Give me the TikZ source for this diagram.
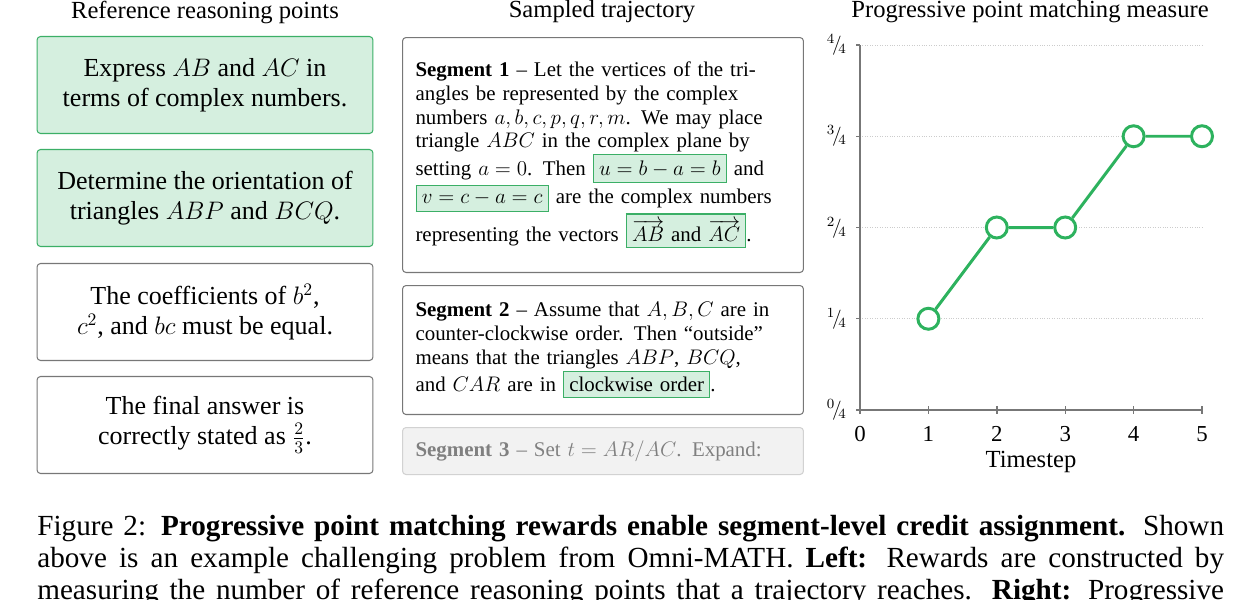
\documentclass[tikz,border=0pt]{standalone}
\usepackage{amsmath,amssymb}
\usepackage{fontspec}
\setmainfont{Liberation Serif}
\usepackage{xcolor}
\usetikzlibrary{positioning}

\definecolor{ptgreen}{HTML}{2DB25E}
\definecolor{ptfill}{HTML}{D5EFDF}
\definecolor{ptedge}{HTML}{3BAF66}
\definecolor{ptgray}{HTML}{777777}
\newcommand{\hlmark}[1]{{\setlength{\fboxsep}{3pt}\setlength{\fboxrule}{0.6pt}\fcolorbox{ptedge}{ptfill}{#1}}}

\begin{document}
\begin{tikzpicture}[
    x=0.02cm, y=-0.02cm,
    point/.style={rectangle, draw=ptgray, rounded corners=2pt, line width=0.6pt, minimum width=6.72cm, minimum height=1.94cm, font=\fontsize{14.8}{17}\selectfont, align=center},
    hit/.style={point, draw=ptedge, fill=ptfill},
    segment/.style={rectangle, draw=ptgray, rounded corners=2pt, line width=0.6pt, minimum width=8.02cm, font=\fontsize{11.9}{13.6}\selectfont, align=left, text width=7.5cm, anchor=north west},
    head/.style={font=\fontsize{14}{16}\selectfont},
    grid/.style={gray!40, densely dotted, line width=0.4pt},
    axis/.style={ptgray, line width=0.8pt},
    dot/.style={circle, draw=ptgreen, fill=white, line width=1.7pt, minimum size=0.42cm, inner sep=0pt},
]
    \useasboundingbox (0,0) rectangle (1260,599);

    % Left column: reference reasoning points
    \node[head] (lefthead) at (205,12) {Reference reasoning points};
    \node[hit] (p1) at (205,85) {Express $AB$ and $AC$ in\\terms of complex numbers.};
    \node[hit] (p2) at (205,198) {Determine the orientation of\\triangles $ABP$ and $BCQ$.};
    \node[point] (p3) at (205,312) {The coefficients of $b^2$,\\$c^2$, and $bc$ must be equal.};
    \node[point] (p4) at (205,425) {The final answer is\\correctly stated as $\frac{2}{3}$.};

    % Middle column: sampled trajectory
    \node[head] (midhead) at (602,12) {Sampled trajectory};
    \node[segment, minimum height=4.7cm] (s1) at (402,37) {%
      \textbf{Segment 1} -- Let the vertices of the tri-\\
      angles be represented by the complex\\
      numbers $a,b,c,p,q,r,m$. We may place\\
      triangle $ABC$ in the complex plane by\\
      setting $a=0$. Then \hlmark{$u=b-a=b$} and\\
      \hlmark{$v=c-a=c$} are the complex numbers\\
      representing the vectors \hlmark{$\overrightarrow{AB}$ and $\overrightarrow{AC}$}.};
    \node[segment, minimum height=2.58cm] (s2) at (402,285) {%
      \textbf{Segment 2} -- Assume that $A,B,C$ are in\\
      counter-clockwise order. Then ``outside''\\
      means that the triangles $ABP$, $BCQ$,\\
      and $CAR$ are in \hlmark{clockwise order}.};
    \node[segment, draw=gray!35, fill=gray!10, text=gray, minimum height=0.94cm] (s3) at (402,427) {%
      \textbf{Segment 3} -- Set $t=AR/AC$. Expand:};

    % Right column: progressive point matching measure
    \node[head] (righthead) at (1030,12) {Progressive point matching measure};
    \foreach \k in {1,...,4}
        \draw[grid] (860,410-91.25*\k) -- (1202,410-91.25*\k);
    \foreach \k in {0,...,4}{
        \draw[axis] (856,410-91.25*\k) -- (860,410-91.25*\k);
        \node[left, font=\fontsize{11}{13}\selectfont] at (853,410-91.25*\k) {$^{\k}\!/\!_{4}$};
    }
    \foreach \t in {0,...,5}{
        \draw[axis] (860+68.4*\t,406) -- (860+68.4*\t,414);
        \node[font=\fontsize{13}{15}\selectfont] at (860+68.4*\t,434) {\t};
    }
    \draw[axis] (860,45) -- (860,410) -- (1202,410);
    \node[head] (xlabel) at (1031,462) {Timestep};

    \node[dot] (m1) at (928.4,318.75) {};
    \node[dot] (m2) at (996.8,227.5) {};
    \node[dot] (m3) at (1065.2,227.5) {};
    \node[dot] (m4) at (1133.6,136.25) {};
    \node[dot] (m5) at (1202,136.25) {};
    \draw[ptgreen, line width=1.7pt] (m1) -- (m2) -- (m3) -- (m4) -- (m5);

    % Caption
    \begin{scope}[font=\fontsize{16.6}{19}\selectfont]
    \node[anchor=base west, inner sep=0pt] (cap1) at (37,535) {\makebox[23.74cm][s]{Figure 2: \textbf{Progressive point matching rewards enable segment-level credit assignment.} Shown}};
    \node[anchor=base west, inner sep=0pt] (cap2) at (37,567) {\makebox[23.74cm][s]{above is an example challenging problem from Omni-MATH. \textbf{Left:} Rewards are constructed by}};
    \node[anchor=base west, inner sep=0pt] (cap3) at (37,599) {\makebox[23.74cm][s]{measuring the number of reference reasoning points that a trajectory reaches. \textbf{Right:} Progressive}};
    \end{scope}
\end{tikzpicture}
\end{document}
